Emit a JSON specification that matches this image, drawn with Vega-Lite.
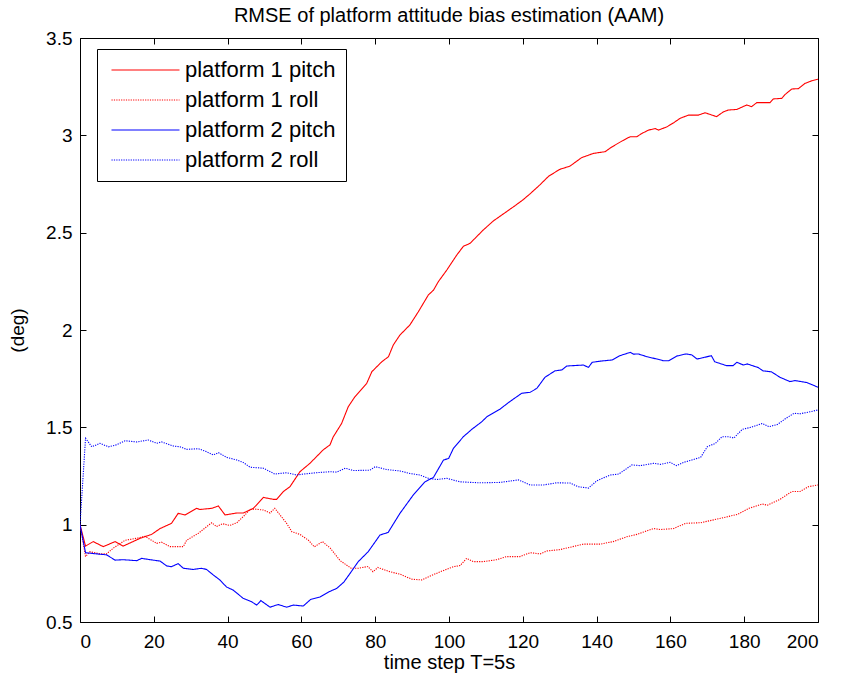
{
  "$schema": "https://vega.github.io/schema/vega-lite/v6.json",
  "width": 738,
  "height": 584,
  "autosize": {"type": "none"},
  "padding": {"left": 80, "top": 38, "right": 25, "bottom": 63},
  "background": "white",
  "config": {
    "view": {"stroke": "black", "strokeWidth": 1},
    "font": "Liberation Sans",
    "axis": {"grid": false, "domain": false, "tickColor": "black", "tickSize": -6, "labelColor": "black", "titleColor": "black", "labelFont": "Liberation Sans", "titleFont": "Liberation Sans", "titleFontWeight": "normal"},
    "legend": {"title": null, "orient": "none", "legendX": 17, "legendY": 11, "symbolType": "M-0.93,0H8.786", "symbolSize": 196, "symbolStrokeWidth": 1.2, "labelFontSize": 22, "labelFont": "Liberation Sans", "labelColor": "black", "labelOffset": 56, "strokeColor": "black", "fillColor": "white", "padding": 10, "rowPadding": 8, "labelLimit": 300}
  },
  "title": {"text": "RMSE of platform attitude bias estimation (AAM)", "fontSize": 20, "fontWeight": "normal", "font": "Liberation Sans", "color": "black", "offset": 3},
  "data": {"values": [
    {"s":"platform 1 pitch","t":0,"v":1.0},{"s":"platform 1 pitch","t":1.5,"v":0.89},{"s":"platform 1 pitch","t":3.6,"v":0.913},{"s":"platform 1 pitch","t":6.3,"v":0.887},{"s":"platform 1 pitch","t":9.5,"v":0.913},{"s":"platform 1 pitch","t":11.7,"v":0.89},{"s":"platform 1 pitch","t":16.3,"v":0.93},{"s":"platform 1 pitch","t":19.4,"v":0.95},{"s":"platform 1 pitch","t":21.7,"v":0.98},{"s":"platform 1 pitch","t":24.8,"v":1.007},{"s":"platform 1 pitch","t":26.6,"v":1.058},{"s":"platform 1 pitch","t":28.5,"v":1.05},{"s":"platform 1 pitch","t":31.6,"v":1.084},{"s":"platform 1 pitch","t":32.5,"v":1.078},{"s":"platform 1 pitch","t":35.7,"v":1.084},{"s":"platform 1 pitch","t":37.5,"v":1.096},{"s":"platform 1 pitch","t":39.3,"v":1.05},{"s":"platform 1 pitch","t":42.5,"v":1.06},{"s":"platform 1 pitch","t":44.3,"v":1.06},{"s":"platform 1 pitch","t":47,"v":1.084},{"s":"platform 1 pitch","t":49.7,"v":1.14},{"s":"platform 1 pitch","t":52.4,"v":1.13},{"s":"platform 1 pitch","t":53.3,"v":1.13},{"s":"platform 1 pitch","t":55.1,"v":1.17},{"s":"platform 1 pitch","t":56.9,"v":1.195},{"s":"platform 1 pitch","t":59.6,"v":1.272},{"s":"platform 1 pitch","t":62.3,"v":1.315},{"s":"platform 1 pitch","t":65.9,"v":1.384},{"s":"platform 1 pitch","t":67.75,"v":1.41},{"s":"platform 1 pitch","t":68.6,"v":1.45},{"s":"platform 1 pitch","t":70.9,"v":1.52},{"s":"platform 1 pitch","t":72.7,"v":1.606},{"s":"platform 1 pitch","t":74.5,"v":1.657},{"s":"platform 1 pitch","t":77.7,"v":1.726},{"s":"platform 1 pitch","t":79.1,"v":1.786},{"s":"platform 1 pitch","t":81.8,"v":1.837},{"s":"platform 1 pitch","t":83.6,"v":1.863},{"s":"platform 1 pitch","t":84.9,"v":1.923},{"s":"platform 1 pitch","t":86.7,"v":1.974},{"s":"platform 1 pitch","t":89.4,"v":2.026},{"s":"platform 1 pitch","t":91.7,"v":2.094},{"s":"platform 1 pitch","t":94.4,"v":2.18},{"s":"platform 1 pitch","t":95.8,"v":2.205},{"s":"platform 1 pitch","t":97.1,"v":2.248},{"s":"platform 1 pitch","t":99.4,"v":2.308},{"s":"platform 1 pitch","t":102.1,"v":2.385},{"s":"platform 1 pitch","t":103.9,"v":2.43},{"s":"platform 1 pitch","t":105.7,"v":2.445},{"s":"platform 1 pitch","t":109.3,"v":2.514},{"s":"platform 1 pitch","t":112,"v":2.56},{"s":"platform 1 pitch","t":115,"v":2.6},{"s":"platform 1 pitch","t":118,"v":2.64},{"s":"platform 1 pitch","t":120,"v":2.668},{"s":"platform 1 pitch","t":122,"v":2.7},{"s":"platform 1 pitch","t":124.6,"v":2.745},{"s":"platform 1 pitch","t":127,"v":2.79},{"s":"platform 1 pitch","t":130,"v":2.825},{"s":"platform 1 pitch","t":132.8,"v":2.842},{"s":"platform 1 pitch","t":135.9,"v":2.885},{"s":"platform 1 pitch","t":139.1,"v":2.907},{"s":"platform 1 pitch","t":142.3,"v":2.916},{"s":"platform 1 pitch","t":144.1,"v":2.94},{"s":"platform 1 pitch","t":146.8,"v":2.97},{"s":"platform 1 pitch","t":149.1,"v":2.993},{"s":"platform 1 pitch","t":150.9,"v":2.993},{"s":"platform 1 pitch","t":152.3,"v":3.01},{"s":"platform 1 pitch","t":154.1,"v":3.027},{"s":"platform 1 pitch","t":155.9,"v":3.035},{"s":"platform 1 pitch","t":156.8,"v":3.027},{"s":"platform 1 pitch","t":159.1,"v":3.044},{"s":"platform 1 pitch","t":160.9,"v":3.065},{"s":"platform 1 pitch","t":162.6,"v":3.087},{"s":"platform 1 pitch","t":164.9,"v":3.104},{"s":"platform 1 pitch","t":167.6,"v":3.104},{"s":"platform 1 pitch","t":169.4,"v":3.116},{"s":"platform 1 pitch","t":172.5,"v":3.096},{"s":"platform 1 pitch","t":174.4,"v":3.121},{"s":"platform 1 pitch","t":175.7,"v":3.13},{"s":"platform 1 pitch","t":178,"v":3.133},{"s":"platform 1 pitch","t":180.7,"v":3.156},{"s":"platform 1 pitch","t":182,"v":3.147},{"s":"platform 1 pitch","t":183.4,"v":3.168},{"s":"platform 1 pitch","t":187,"v":3.168},{"s":"platform 1 pitch","t":187.9,"v":3.187},{"s":"platform 1 pitch","t":190.2,"v":3.19},{"s":"platform 1 pitch","t":191.1,"v":3.21},{"s":"platform 1 pitch","t":192.9,"v":3.238},{"s":"platform 1 pitch","t":194.7,"v":3.24},{"s":"platform 1 pitch","t":196.5,"v":3.267},{"s":"platform 1 pitch","t":198.3,"v":3.28},{"s":"platform 1 pitch","t":200,"v":3.288},
    {"s":"platform 1 roll","t":0,"v":1.0},{"s":"platform 1 roll","t":1.5,"v":0.836},{"s":"platform 1 roll","t":2.7,"v":0.861},{"s":"platform 1 roll","t":5.4,"v":0.85},{"s":"platform 1 roll","t":7.2,"v":0.85},{"s":"platform 1 roll","t":9,"v":0.879},{"s":"platform 1 roll","t":12.2,"v":0.92},{"s":"platform 1 roll","t":15.4,"v":0.93},{"s":"platform 1 roll","t":17.6,"v":0.94},{"s":"platform 1 roll","t":20.8,"v":0.904},{"s":"platform 1 roll","t":22.1,"v":0.91},{"s":"platform 1 roll","t":24.4,"v":0.887},{"s":"platform 1 roll","t":28,"v":0.887},{"s":"platform 1 roll","t":28.9,"v":0.92},{"s":"platform 1 roll","t":32.1,"v":0.956},{"s":"platform 1 roll","t":35.7,"v":1.01},{"s":"platform 1 roll","t":37,"v":0.99},{"s":"platform 1 roll","t":38.6,"v":1.005},{"s":"platform 1 roll","t":40.6,"v":0.996},{"s":"platform 1 roll","t":42.5,"v":1.01},{"s":"platform 1 roll","t":44.7,"v":1.05},{"s":"platform 1 roll","t":46.1,"v":1.079},{"s":"platform 1 roll","t":47.4,"v":1.08},{"s":"platform 1 roll","t":49.7,"v":1.075},{"s":"platform 1 roll","t":51.5,"v":1.06},{"s":"platform 1 roll","t":52.8,"v":1.084},{"s":"platform 1 roll","t":54.2,"v":1.05},{"s":"platform 1 roll","t":56,"v":1.007},{"s":"platform 1 roll","t":57.4,"v":0.964},{"s":"platform 1 roll","t":59.6,"v":0.95},{"s":"platform 1 roll","t":61.9,"v":0.92},{"s":"platform 1 roll","t":63.5,"v":0.886},{"s":"platform 1 roll","t":65.7,"v":0.913},{"s":"platform 1 roll","t":67.8,"v":0.88},{"s":"platform 1 roll","t":70.5,"v":0.815},{"s":"platform 1 roll","t":73.5,"v":0.776},{"s":"platform 1 roll","t":75.5,"v":0.776},{"s":"platform 1 roll","t":78,"v":0.785},{"s":"platform 1 roll","t":79.4,"v":0.758},{"s":"platform 1 roll","t":80.7,"v":0.78},{"s":"platform 1 roll","t":84,"v":0.758},{"s":"platform 1 roll","t":86.7,"v":0.746},{"s":"platform 1 roll","t":89.9,"v":0.72},{"s":"platform 1 roll","t":92.6,"v":0.716},{"s":"platform 1 roll","t":94.9,"v":0.736},{"s":"platform 1 roll","t":97.6,"v":0.758},{"s":"platform 1 roll","t":101.2,"v":0.784},{"s":"platform 1 roll","t":103,"v":0.79},{"s":"platform 1 roll","t":104.8,"v":0.827},{"s":"platform 1 roll","t":106.6,"v":0.81},{"s":"platform 1 roll","t":109.3,"v":0.81},{"s":"platform 1 roll","t":112.9,"v":0.82},{"s":"platform 1 roll","t":115.6,"v":0.836},{"s":"platform 1 roll","t":119.2,"v":0.836},{"s":"platform 1 roll","t":122,"v":0.856},{"s":"platform 1 roll","t":124.7,"v":0.85},{"s":"platform 1 roll","t":126.5,"v":0.865},{"s":"platform 1 roll","t":130.1,"v":0.872},{"s":"platform 1 roll","t":133.5,"v":0.887},{"s":"platform 1 roll","t":136.4,"v":0.9},{"s":"platform 1 roll","t":141,"v":0.9},{"s":"platform 1 roll","t":144.5,"v":0.913},{"s":"platform 1 roll","t":148.2,"v":0.938},{"s":"platform 1 roll","t":150.9,"v":0.95},{"s":"platform 1 roll","t":155.4,"v":0.98},{"s":"platform 1 roll","t":157.3,"v":0.975},{"s":"platform 1 roll","t":160.9,"v":0.98},{"s":"platform 1 roll","t":164.1,"v":1.007},{"s":"platform 1 roll","t":168.2,"v":1.01},{"s":"platform 1 roll","t":173.7,"v":1.033},{"s":"platform 1 roll","t":178.2,"v":1.053},{"s":"platform 1 roll","t":181.3,"v":1.084},{"s":"platform 1 roll","t":184.9,"v":1.106},{"s":"platform 1 roll","t":186.3,"v":1.1},{"s":"platform 1 roll","t":189.7,"v":1.13},{"s":"platform 1 roll","t":192.9,"v":1.17},{"s":"platform 1 roll","t":195.1,"v":1.17},{"s":"platform 1 roll","t":197.4,"v":1.195},{"s":"platform 1 roll","t":200,"v":1.204},
    {"s":"platform 2 pitch","t":0,"v":1.0},{"s":"platform 2 pitch","t":1.5,"v":0.856},{"s":"platform 2 pitch","t":4.5,"v":0.85},{"s":"platform 2 pitch","t":7.2,"v":0.845},{"s":"platform 2 pitch","t":9.5,"v":0.818},{"s":"platform 2 pitch","t":11.7,"v":0.82},{"s":"platform 2 pitch","t":15.4,"v":0.815},{"s":"platform 2 pitch","t":16.7,"v":0.827},{"s":"platform 2 pitch","t":19,"v":0.82},{"s":"platform 2 pitch","t":21.7,"v":0.813},{"s":"platform 2 pitch","t":23.5,"v":0.788},{"s":"platform 2 pitch","t":24.8,"v":0.784},{"s":"platform 2 pitch","t":26.6,"v":0.8},{"s":"platform 2 pitch","t":28,"v":0.776},{"s":"platform 2 pitch","t":30.7,"v":0.77},{"s":"platform 2 pitch","t":32.9,"v":0.776},{"s":"platform 2 pitch","t":34.3,"v":0.77},{"s":"platform 2 pitch","t":36.1,"v":0.742},{"s":"platform 2 pitch","t":37.9,"v":0.716},{"s":"platform 2 pitch","t":39.7,"v":0.68},{"s":"platform 2 pitch","t":41.5,"v":0.664},{"s":"platform 2 pitch","t":44.2,"v":0.622},{"s":"platform 2 pitch","t":46.5,"v":0.604},{"s":"platform 2 pitch","t":47.9,"v":0.587},{"s":"platform 2 pitch","t":49,"v":0.61},{"s":"platform 2 pitch","t":51.5,"v":0.576},{"s":"platform 2 pitch","t":53.7,"v":0.59},{"s":"platform 2 pitch","t":56,"v":0.576},{"s":"platform 2 pitch","t":57.8,"v":0.587},{"s":"platform 2 pitch","t":60.5,"v":0.582},{"s":"platform 2 pitch","t":62.5,"v":0.616},{"s":"platform 2 pitch","t":65,"v":0.628},{"s":"platform 2 pitch","t":67.5,"v":0.655},{"s":"platform 2 pitch","t":69.6,"v":0.673},{"s":"platform 2 pitch","t":71.5,"v":0.705},{"s":"platform 2 pitch","t":73.2,"v":0.75},{"s":"platform 2 pitch","t":75.4,"v":0.81},{"s":"platform 2 pitch","t":78.1,"v":0.861},{"s":"platform 2 pitch","t":81.3,"v":0.947},{"s":"platform 2 pitch","t":83.5,"v":0.96},{"s":"platform 2 pitch","t":86.7,"v":1.058},{"s":"platform 2 pitch","t":90.3,"v":1.152},{"s":"platform 2 pitch","t":93.5,"v":1.22},{"s":"platform 2 pitch","t":95.8,"v":1.243},{"s":"platform 2 pitch","t":98.5,"v":1.332},{"s":"platform 2 pitch","t":99.9,"v":1.34},{"s":"platform 2 pitch","t":101.2,"v":1.392},{"s":"platform 2 pitch","t":103.9,"v":1.452},{"s":"platform 2 pitch","t":106.2,"v":1.49},{"s":"platform 2 pitch","t":108.9,"v":1.529},{"s":"platform 2 pitch","t":110.3,"v":1.555},{"s":"platform 2 pitch","t":113.8,"v":1.593},{"s":"platform 2 pitch","t":116.1,"v":1.627},{"s":"platform 2 pitch","t":119.7,"v":1.675},{"s":"platform 2 pitch","t":122,"v":1.68},{"s":"platform 2 pitch","t":123.8,"v":1.7},{"s":"platform 2 pitch","t":126,"v":1.757},{"s":"platform 2 pitch","t":128.7,"v":1.79},{"s":"platform 2 pitch","t":130.6,"v":1.795},{"s":"platform 2 pitch","t":131.9,"v":1.815},{"s":"platform 2 pitch","t":136.4,"v":1.82},{"s":"platform 2 pitch","t":137.8,"v":1.808},{"s":"platform 2 pitch","t":138.8,"v":1.834},{"s":"platform 2 pitch","t":141,"v":1.84},{"s":"platform 2 pitch","t":144.2,"v":1.846},{"s":"platform 2 pitch","t":146.3,"v":1.868},{"s":"platform 2 pitch","t":149.1,"v":1.885},{"s":"platform 2 pitch","t":150,"v":1.876},{"s":"platform 2 pitch","t":151.3,"v":1.877},{"s":"platform 2 pitch","t":153.6,"v":1.863},{"s":"platform 2 pitch","t":156.3,"v":1.851},{"s":"platform 2 pitch","t":158.1,"v":1.842},{"s":"platform 2 pitch","t":159.5,"v":1.842},{"s":"platform 2 pitch","t":161.7,"v":1.866},{"s":"platform 2 pitch","t":164.2,"v":1.877},{"s":"platform 2 pitch","t":165.8,"v":1.872},{"s":"platform 2 pitch","t":167.2,"v":1.851},{"s":"platform 2 pitch","t":168.9,"v":1.858},{"s":"platform 2 pitch","t":171.1,"v":1.868},{"s":"platform 2 pitch","t":172,"v":1.837},{"s":"platform 2 pitch","t":175.2,"v":1.817},{"s":"platform 2 pitch","t":177,"v":1.817},{"s":"platform 2 pitch","t":178,"v":1.834},{"s":"platform 2 pitch","t":179.8,"v":1.82},{"s":"platform 2 pitch","t":180.8,"v":1.826},{"s":"platform 2 pitch","t":183.8,"v":1.807},{"s":"platform 2 pitch","t":185.1,"v":1.79},{"s":"platform 2 pitch","t":187.4,"v":1.785},{"s":"platform 2 pitch","t":189.7,"v":1.757},{"s":"platform 2 pitch","t":192.4,"v":1.735},{"s":"platform 2 pitch","t":193.8,"v":1.74},{"s":"platform 2 pitch","t":197,"v":1.73},{"s":"platform 2 pitch","t":200,"v":1.706},
    {"s":"platform 2 roll","t":0,"v":1.0},{"s":"platform 2 roll","t":1.5,"v":1.444},{"s":"platform 2 roll","t":3.2,"v":1.4},{"s":"platform 2 roll","t":5.4,"v":1.418},{"s":"platform 2 roll","t":7.7,"v":1.4},{"s":"platform 2 roll","t":9.9,"v":1.41},{"s":"platform 2 roll","t":12.2,"v":1.431},{"s":"platform 2 roll","t":15.4,"v":1.425},{"s":"platform 2 roll","t":18.5,"v":1.435},{"s":"platform 2 roll","t":20.8,"v":1.418},{"s":"platform 2 roll","t":22.1,"v":1.425},{"s":"platform 2 roll","t":25.3,"v":1.404},{"s":"platform 2 roll","t":27.1,"v":1.4},{"s":"platform 2 roll","t":28.9,"v":1.387},{"s":"platform 2 roll","t":32.1,"v":1.39},{"s":"platform 2 roll","t":34.3,"v":1.375},{"s":"platform 2 roll","t":36.1,"v":1.358},{"s":"platform 2 roll","t":37.5,"v":1.37},{"s":"platform 2 roll","t":39.7,"v":1.346},{"s":"platform 2 roll","t":42.5,"v":1.332},{"s":"platform 2 roll","t":44.2,"v":1.32},{"s":"platform 2 roll","t":46.1,"v":1.295},{"s":"platform 2 roll","t":49.7,"v":1.29},{"s":"platform 2 roll","t":52.8,"v":1.26},{"s":"platform 2 roll","t":56,"v":1.267},{"s":"platform 2 roll","t":58.7,"v":1.255},{"s":"platform 2 roll","t":60.5,"v":1.26},{"s":"platform 2 roll","t":64.1,"v":1.267},{"s":"platform 2 roll","t":67.8,"v":1.272},{"s":"platform 2 roll","t":69.6,"v":1.27},{"s":"platform 2 roll","t":71.9,"v":1.29},{"s":"platform 2 roll","t":74.1,"v":1.278},{"s":"platform 2 roll","t":78.6,"v":1.28},{"s":"platform 2 roll","t":80,"v":1.298},{"s":"platform 2 roll","t":83.1,"v":1.283},{"s":"platform 2 roll","t":86.7,"v":1.276},{"s":"platform 2 roll","t":89.4,"v":1.263},{"s":"platform 2 roll","t":92.1,"v":1.255},{"s":"platform 2 roll","t":94.4,"v":1.238},{"s":"platform 2 roll","t":96.7,"v":1.232},{"s":"platform 2 roll","t":99.4,"v":1.238},{"s":"platform 2 roll","t":103,"v":1.22},{"s":"platform 2 roll","t":108.4,"v":1.215},{"s":"platform 2 roll","t":113.8,"v":1.217},{"s":"platform 2 roll","t":118.8,"v":1.23},{"s":"platform 2 roll","t":122,"v":1.204},{"s":"platform 2 roll","t":125.6,"v":1.204},{"s":"platform 2 roll","t":129.2,"v":1.215},{"s":"platform 2 roll","t":132.8,"v":1.214},{"s":"platform 2 roll","t":135,"v":1.195},{"s":"platform 2 roll","t":137.8,"v":1.188},{"s":"platform 2 roll","t":140.1,"v":1.226},{"s":"platform 2 roll","t":143.7,"v":1.255},{"s":"platform 2 roll","t":146,"v":1.26},{"s":"platform 2 roll","t":149.6,"v":1.307},{"s":"platform 2 roll","t":151.8,"v":1.303},{"s":"platform 2 roll","t":155.4,"v":1.315},{"s":"platform 2 roll","t":157.3,"v":1.31},{"s":"platform 2 roll","t":159.9,"v":1.32},{"s":"platform 2 roll","t":161.7,"v":1.303},{"s":"platform 2 roll","t":163.6,"v":1.32},{"s":"platform 2 roll","t":165.8,"v":1.332},{"s":"platform 2 roll","t":168.2,"v":1.346},{"s":"platform 2 roll","t":170,"v":1.4},{"s":"platform 2 roll","t":172.2,"v":1.418},{"s":"platform 2 roll","t":174,"v":1.452},{"s":"platform 2 roll","t":175.8,"v":1.452},{"s":"platform 2 roll","t":177.2,"v":1.445},{"s":"platform 2 roll","t":179.5,"v":1.49},{"s":"platform 2 roll","t":181.8,"v":1.5},{"s":"platform 2 roll","t":184.9,"v":1.52},{"s":"platform 2 roll","t":186.7,"v":1.503},{"s":"platform 2 roll","t":189,"v":1.515},{"s":"platform 2 roll","t":191.3,"v":1.546},{"s":"platform 2 roll","t":193.5,"v":1.572},{"s":"platform 2 roll","t":195.3,"v":1.57},{"s":"platform 2 roll","t":197.8,"v":1.58},{"s":"platform 2 roll","t":200,"v":1.589}
  ]},
  "layer": [
    {
      "mark": {"type": "line", "strokeWidth": 1.1, "clip": true},
      "encoding": {
        "x": {"field": "t", "type": "quantitative", "scale": {"domain": [0, 200], "nice": false, "zero": false},
              "axis": {"values": [0,20,40,60,80,100,120,140,160,180,200], "title": "time step T=5s", "labelFontSize": 19, "titleFontSize": 20, "labelPadding": 16, "titlePadding": 1}},
        "y": {"field": "v", "type": "quantitative", "scale": {"domain": [0.5, 3.5], "nice": false, "zero": false},
              "axis": {"values": [0.5,1,1.5,2,2.5,3,3.5], "format": "~g", "title": "(deg)", "labelFontSize": 19, "titleFontSize": 19, "labelPadding": 14, "titlePadding": 18}},
        "color": {"field": "s", "type": "nominal",
                  "scale": {"domain": ["platform 1 pitch","platform 1 roll","platform 2 pitch","platform 2 roll"], "range": ["#ff0000","#ff0000","#0000ff","#0000ff"]}},
        "strokeDash": {"field": "s", "type": "nominal",
                  "scale": {"domain": ["platform 1 pitch","platform 1 roll","platform 2 pitch","platform 2 roll"], "range": [[1,0],[1.2,1.2],[1,0],[1.2,1.2]]}}
      }
    },
    {
      "mark": {"type": "line", "strokeOpacity": 0},
      "encoding": {
        "x": {"field": "t", "type": "quantitative", "axis": {"orient": "top", "values": [0,20,40,60,80,100,120,140,160,180,200], "labels": false, "title": null}},
        "y": {"field": "v", "type": "quantitative", "axis": {"orient": "right", "values": [0.5,1,1.5,2,2.5,3,3.5], "labels": false, "title": null}},
        "detail": {"field": "s"}
      }
    }
  ],
  "resolve": {"axis": {"x": "independent", "y": "independent"}}
}
